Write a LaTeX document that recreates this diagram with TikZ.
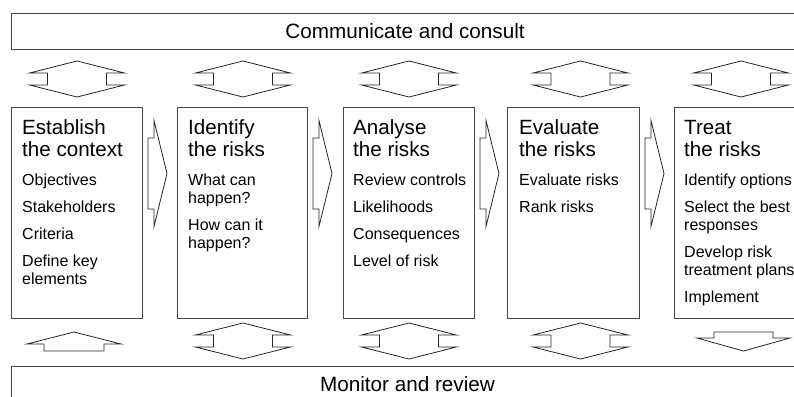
\documentclass[tikz,border=0pt]{standalone}
\usepackage{fontspec}
\setmainfont{Liberation Sans}
\tikzset{
  frame/.style={draw=black!72, line width=1.1pt, fill=white, inner sep=0pt, anchor=north west},
  arr/.style={draw=black!85, line width=0.8pt, fill=white, line join=miter},
  titletext/.style={anchor=base west, inner sep=0pt, font=\fontsize{20.6}{22}\selectfont},
  itemtext/.style={anchor=base west, inner sep=0pt, font=\fontsize{16}{18}\selectfont},
  bartext/.style={anchor=base, inner sep=0pt, font=\fontsize{20.7}{24}\selectfont},
  updown/.pic={\draw[arr] (0,-18) -- (47.5,-6) -- (29.5,-6) -- (29.5,6) -- (47.5,6) -- (0,18) -- (-47.5,6) -- (-29.5,6) -- (-29.5,-6) -- (-47.5,-6) -- cycle;},
  rightarr/.pic={\draw[arr] (0,-35.5) -- (6,-35.5) -- (6,-53) -- (19,0) -- (6,53) -- (6,35.5) -- (0,35.5) -- cycle;},
  uparr/.pic={\draw[arr] (0,0) -- (47,12) -- (30,12) -- (30,19) -- (-30,19) -- (-30,12) -- (-47,12) -- cycle;},
  downarr/.pic={\draw[arr] (0,0) -- (46.5,-13) -- (29.5,-13) -- (29.5,-19) -- (-29.5,-19) -- (-29.5,-13) -- (-46.5,-13) -- cycle;}
}
\begin{document}
\begin{tikzpicture}[x=1pt,y=-1pt]
\useasboundingbox (0,0) rectangle (794,396);
\clip (0,0) rectangle (794,396);
\fill[white] (0,0) rectangle (794,396);
% bars
\node[frame, minimum width=800pt, minimum height=36pt] (cc) at (11,13) {};
\node[bartext] (cctext) at (405,38.5) {Communicate and consult};
\node[frame, minimum width=800pt, minimum height=60pt] (mr) at (11,366) {};
\node[bartext] (mrtext) at (407.5,391) {Monitor and review};
% boxes
\node[frame, minimum width=131pt, minimum height=211pt] (b1) at (11,107) {};
\node[frame, minimum width=130pt, minimum height=211pt] (b2) at (177,107) {};
\node[frame, minimum width=131pt, minimum height=211pt] (b3) at (343,107) {};
\node[frame, minimum width=132pt, minimum height=211pt] (b4) at (507,107) {};
\node[frame, minimum width=140pt, minimum height=211pt] (b5) at (674,107) {};
% box 1
\node[titletext] (t1a) at (22,134) {Establish};
\node[titletext] (t1b) at (22,156) {the context};
\node[itemtext] (i1a) at (22,185) {Objectives};
\node[itemtext] (i1b) at (22,212) {Stakeholders};
\node[itemtext] (i1c) at (22,239) {Criteria};
\node[itemtext] (i1d) at (22,266) {Define key};
\node[itemtext] (i1e) at (22,284) {elements};
% box 2
\node[titletext] (t2a) at (188,134) {Identify};
\node[titletext] (t2b) at (188,156) {the risks};
\node[itemtext] (i2a) at (188,185) {What can};
\node[itemtext] (i2b) at (188,203) {happen?};
\node[itemtext] (i2c) at (188,230) {How can it};
\node[itemtext] (i2d) at (188,248) {happen?};
% box 3
\node[titletext] (t3a) at (353,134) {Analyse};
\node[titletext] (t3b) at (353,156) {the risks};
\node[itemtext] (i3a) at (353,185) {Review controls};
\node[itemtext] (i3b) at (353,212) {Likelihoods};
\node[itemtext] (i3c) at (353,239) {Consequences};
\node[itemtext] (i3d) at (353,266) {Level of risk};
% box 4
\node[titletext] (t4a) at (519,134) {Evaluate};
\node[titletext] (t4b) at (519,156) {the risks};
\node[itemtext] (i4a) at (519,185) {Evaluate risks};
\node[itemtext] (i4b) at (519,212) {Rank risks};
% box 5
\node[titletext] (t5a) at (684,134) {Treat};
\node[titletext] (t5b) at (684,156) {the risks};
\node[itemtext] (i5a) at (684,185) {Identify options};
\node[itemtext] (i5b) at (684,212) {Select the best};
\node[itemtext] (i5c) at (684,230) {responses};
\node[itemtext] (i5d) at (684,257) {Develop risk};
\node[itemtext] (i5e) at (684,275) {treatment plans};
\node[itemtext] (i5f) at (684,302) {Implement};
% top double arrows
\pic at (77,79) {updown};
\pic at (243,79) {updown};
\pic at (409,79) {updown};
\pic at (580.5,79) {updown};
\pic at (741,79) {updown};
% bottom arrows
\pic at (74,332) {uparr};
\pic at (243,341) {updown};
\pic at (409,341) {updown};
\pic at (580.5,341) {updown};
\pic at (743.5,351) {downarr};
% right arrows between boxes
\pic at (148,173.5) {rightarr};
\pic at (313,173.5) {rightarr};
\pic at (480,173.5) {rightarr};
\pic at (645,173.5) {rightarr};
\end{tikzpicture}
\end{document}
